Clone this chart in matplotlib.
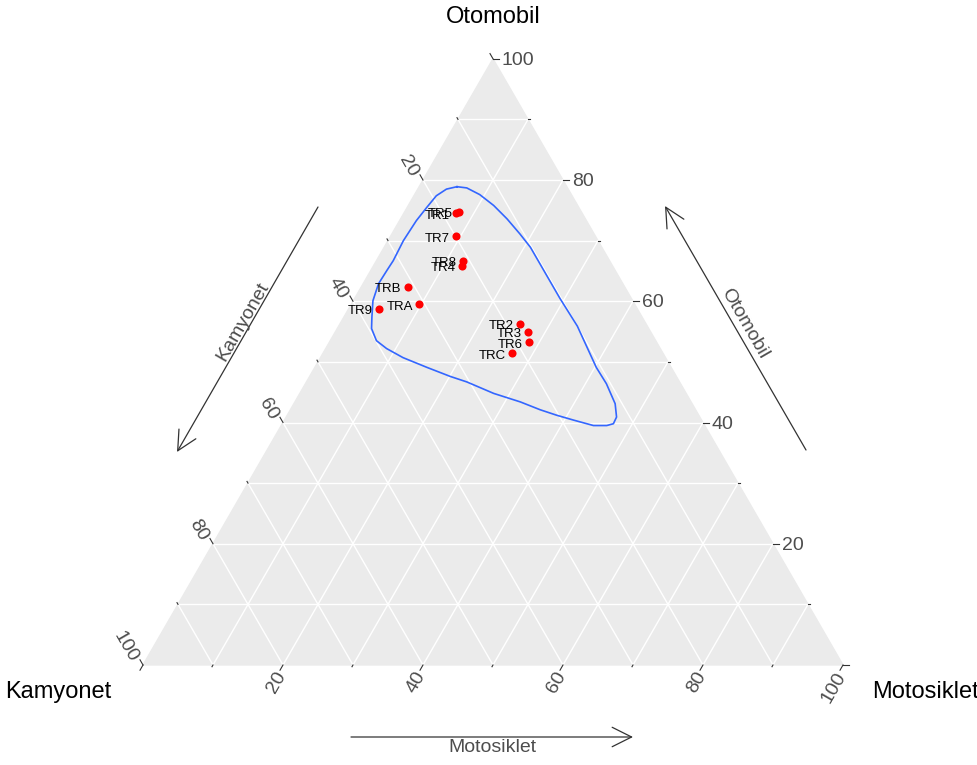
import numpy as np
import matplotlib.pyplot as plt

plt.rcParams['font.family'] = ['Liberation Sans', 'DejaVu Sans']

# sample points, percentages
labels = ["TR5", "TR1", "TR7", "TR8", "TR4", "TRB", "TRA", "TR9", "TR2", "TR3", "TR6", "TRC"]
kamyonet = [17.5, 18.0, 19.9, 21.0, 21.5, 31.0, 30.8, 36.9, 18.0, 17.5, 18.2, 21.6]
otomobil = [74.8, 74.5, 70.8, 66.7, 65.9, 62.4, 59.5, 58.8, 56.3, 55.0, 53.3, 51.4]
motosiklet = [7.7, 7.5, 9.3, 12.3, 12.6, 6.6, 9.7, 4.3, 25.7, 27.5, 28.5, 27.0]

# density contour line, percentages
cont_otomobil = [78.9, 78.7, 77.6, 75.8, 73.6, 71.1, 68.9, 66.2, 63.4, 60.5, 55.9, 49.1,
                 46.4, 43.1, 40.9, 39.8, 39.5, 39.5, 40.4, 41.2, 42.1, 43.4, 44.8, 46.7,
                 47.6, 49.1, 50.7, 52.2, 53.5, 55.5, 57.4, 60.1, 62.9, 65.1, 66.7, 70.0,
                 73.3, 75.5, 77.4, 78.5]
cont_motosiklet = [5.4, 6.9, 9.3, 12.2, 15.2, 18.3, 20.9, 23.6, 26.4, 29.3, 34.1, 40.2,
                   43.0, 45.9, 47.2, 47.3, 46.5, 44.6, 41.3, 38.5, 35.7, 32.2, 27.7, 22.9,
                   20.1, 16.0, 11.8, 8.7, 6.6, 4.9, 4.0, 2.8, 2.2, 2.3, 2.4, 2.2,
                   2.4, 2.8, 3.2, 4.1]
cont_kamyonet = [100 - o - m for o, m in zip(cont_otomobil, cont_motosiklet)]

ticks = list(range(0, 101, 10))
major_ticks = [0, 20, 40, 60, 80, 100]
label_ticks = [20, 40, 60, 80, 100]


def tern(k, o, m):
    k = np.asarray(k, float)
    o = np.asarray(o, float)
    m = np.asarray(m, float)
    s = k + o + m
    return (m + o / 2) / s, o / s * np.sqrt(3) / 2


px = 1 / 700  # one pixel in triangle units
fig = plt.figure(figsize=(9.78, 7.65), dpi=100)
ax = fig.add_axes([0, 0, 1, 1])
ax.set_xlim(-143 * px, 835 * px)
ax.set_ylim(-100 * px, 665 * px)
ax.axis('off')

# panel
tx, ty = tern([100, 0, 0], [0, 100, 0], [0, 0, 100])
ax.fill(tx, ty, color='#EBEBEB', zorder=0)

# grid
for v in ticks[1:-1]:
    for a, b in [((100 - v, v, 0), (0, v, 100 - v)),
                 ((100 - v, 0, v), (0, 100 - v, v)),
                 ((v, 100 - v, 0), (v, 0, 100 - v))]:
        gx, gy = tern(*zip(a, b))
        ax.plot(gx, gy, color='white', lw=1.0, zorder=1)

# ticks and tick labels
tc = '#333333'
lc = '#4D4D4D'
for v in ticks:
    ln = 6 * px if v in major_ticks else 2 * px
    # Motosiklet along bottom edge
    bx, by = tern(100 - v, 0, v)
    ax.plot([bx, bx - 0.5 * ln], [by, by - 0.866 * ln], color=tc, lw=0.8)
    # Otomobil along right edge
    rx, ry = tern(0, v, 100 - v)
    ax.plot([rx, rx + ln], [ry, ry], color=tc, lw=0.8)
    # Kamyonet along left edge
    lx, ly = tern(v, 100 - v, 0)
    ax.plot([lx, lx - 0.5 * ln], [ly, ly + 0.866 * ln], color=tc, lw=0.8)
    if v in label_ticks:
        ax.text(bx - 1 * px, by - 8 * px, str(v), rotation=60, rotation_mode='anchor',
                ha='right', va='center', fontsize=14, color=lc)
        ax.text(rx + 9 * px, ry - 1.5 * px, str(v), ha='left', va='center',
                fontsize=14, color=lc)
        ax.text(lx - 9.5 * px, ly + 4 * px, str(v), rotation=-60, rotation_mode='anchor',
                ha='right', va='center', fontsize=14, color=lc)

# contour
cx, cy = tern(cont_kamyonet + cont_kamyonet[:1], cont_otomobil + cont_otomobil[:1],
              cont_motosiklet + cont_motosiklet[:1])
ax.plot(cx, cy, color='#3366FF', lw=1.2, zorder=3)

# points
x, y = tern(kamyonet, otomobil, motosiklet)
ax.scatter(x, y, s=34, color='red', zorder=5, linewidths=0)
for lab, xi, yi in zip(labels, x, y):
    ax.annotate(lab, (xi, yi), xytext=(-4.5, -2), textcoords='offset points',
                ha='right', va='center', fontsize=9.5, color='black', zorder=6)

# vertex labels
ax.text(0.5, 648 * px, "Otomobil", ha='center', va='center', fontsize=17)
ax.text(-138 * px, -27 * px, "Kamyonet", ha='left', va='center', fontsize=17)
ax.text(729 * px, -27 * px, "Motosiklet", ha='left', va='center', fontsize=17)

# axis arrows
ap = dict(arrowstyle='->,head_length=0.7,head_width=0.35', color='#333333', lw=0.9,
          mutation_scale=20, shrinkA=0, shrinkB=0)
ax.annotate('', xy=(34 * px, 213 * px), xytext=(175 * px, 458 * px), arrowprops=ap)
ax.annotate('', xy=(522 * px, 459 * px), xytext=(663 * px, 215 * px), arrowprops=ap)
ax.annotate('', xy=(490 * px, -72 * px), xytext=(208 * px, -72 * px), arrowprops=ap)
ax.text(100 * px, 343 * px, "Kamyonet", rotation=60, ha='center', va='center',
        fontsize=14, color=lc)
ax.text(602 * px, 341 * px, "Otomobil", rotation=-60, ha='center', va='center',
        fontsize=14, color=lc)
ax.text(349 * px, -83 * px, "Motosiklet", ha='center', va='center',
        fontsize=14, color=lc)

fig.savefig("out.png", dpi=100)
